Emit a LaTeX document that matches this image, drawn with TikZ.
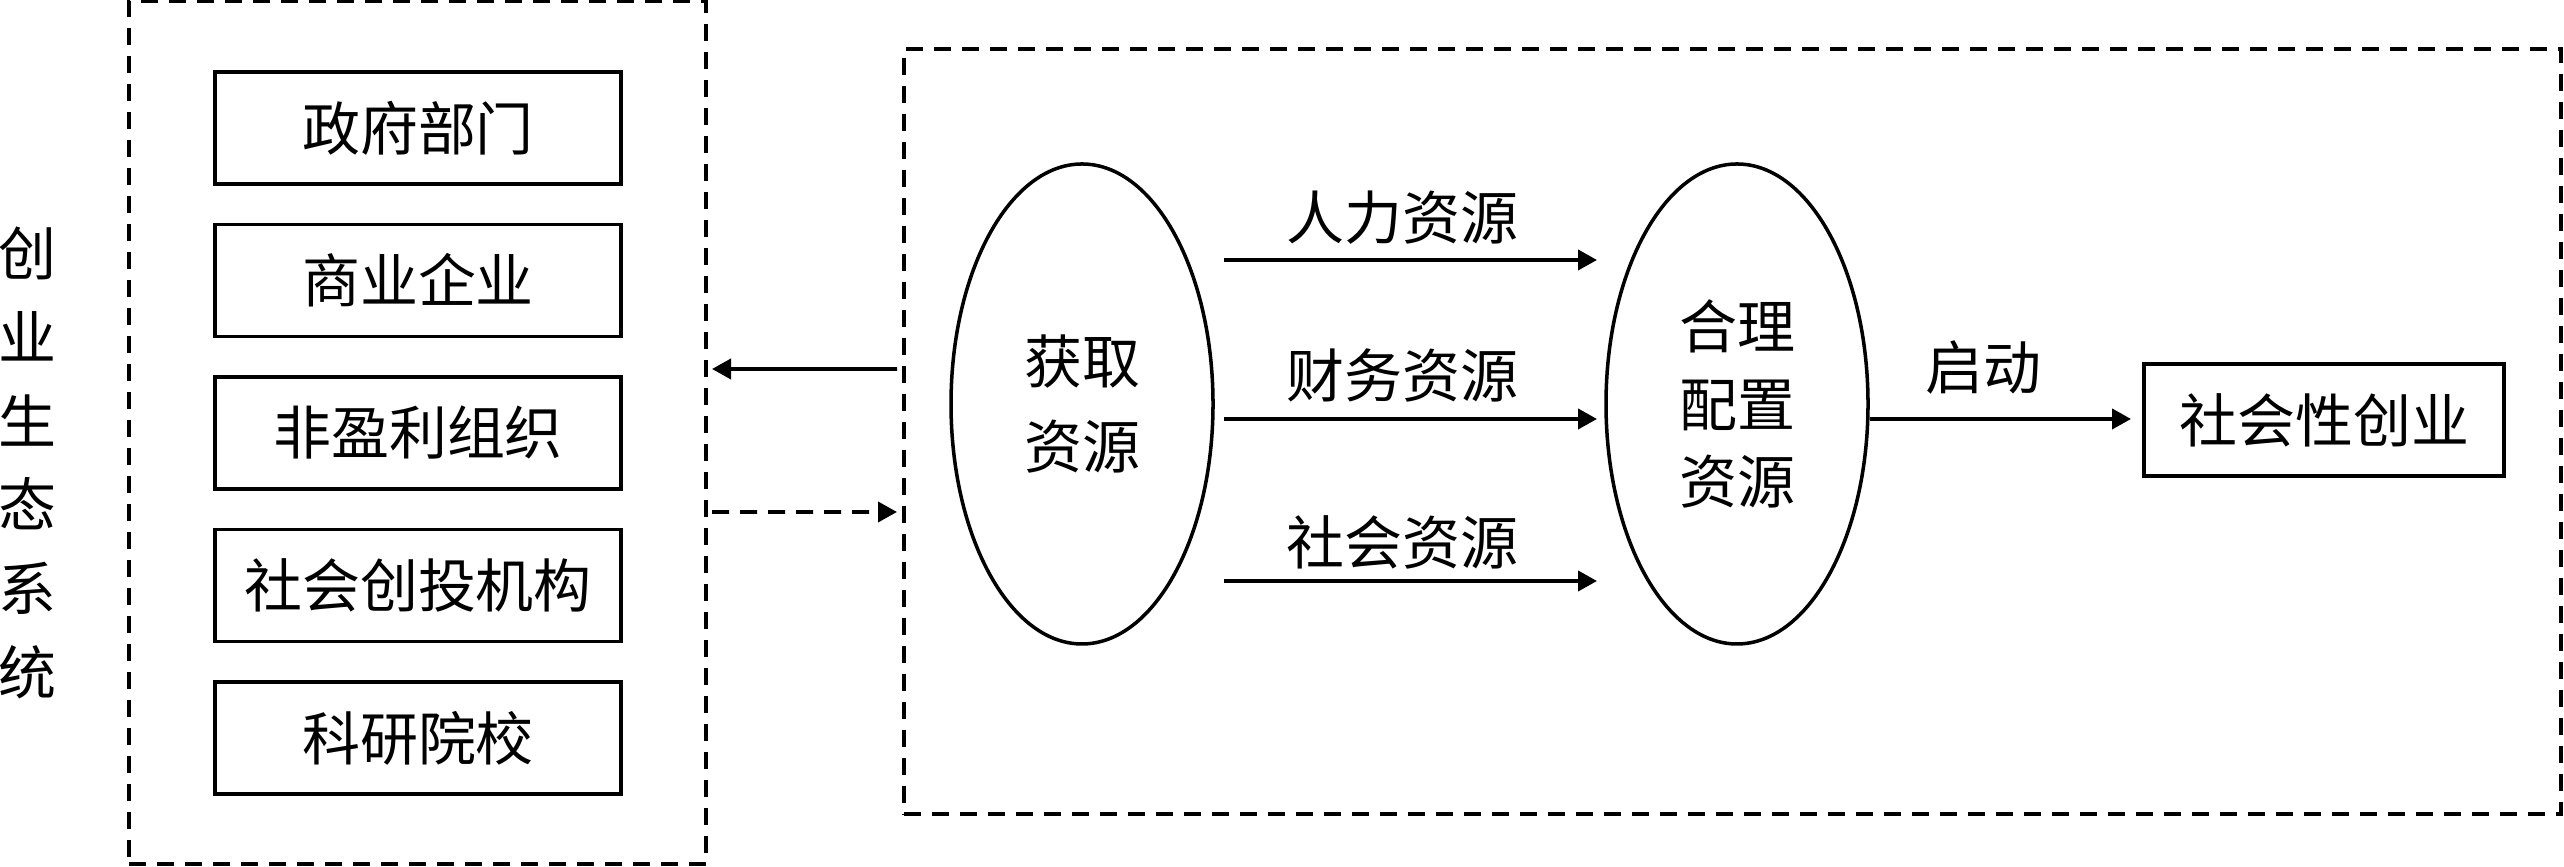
\documentclass[tikz,border=0pt]{standalone}
\usepackage{fontspec}
\setmainfont{Noto Sans CJK SC}
\usetikzlibrary{arrows.meta,calc,shapes.geometric}

\begin{document}
\begin{tikzpicture}[
        font=\fontsize{16.5}{20}\selectfont,
        frame/.style={draw, dash pattern=on 0.17cm off 0.11cm, line width=1.1pt, inner sep=0pt, outer sep=0pt},
        orgbox/.style={draw, line width=1.1pt, minimum width=4.06cm, minimum height=1.12cm, inner sep=0pt, outer sep=0pt},
        blob/.style={draw, ellipse, line width=1pt, minimum width=2.62cm, minimum height=4.8cm, inner sep=0pt, outer sep=0pt, align=center},
        flow/.style={line width=1.1pt, -{Triangle[length=0.19cm, width=0.2cm]}}
    ]
            % Frame to ensure alignment
            \useasboundingbox (0,0) rectangle (25.64,8.67);
            % Ecosystem
            \node[frame, minimum width=5.77cm, minimum height=8.63cm] (eco) at (4.175,4.345) {};
            \node[align=center, font=\fontsize{16.5}{23.8}\selectfont] (ecolabel) at (0.27,4.04) {创\\业\\生\\态\\系\\统};
            \node[orgbox] (gov)   at (4.18,7.39)  {政府部门};
            \node[orgbox] (firm)  at (4.18,5.865) {商业企业};
            \node[orgbox] (npo)   at (4.18,4.34)  {非盈利组织};
            \node[orgbox] (fund)  at (4.18,2.815) {社会创投机构};
            \node[orgbox] (univ)  at (4.18,1.29)  {科研院校};
            % Process
            \node[frame, minimum width=16.57cm, minimum height=7.65cm] (proc) at (17.325,4.355) {};
            \node[blob, font=\fontsize{16.5}{24.4}\selectfont] (getres) at (10.82,4.63) {获取\\资源};
            \node[blob, font=\fontsize{16.5}{22}\selectfont]   (alloc)  at (17.37,4.63) {合理\\配置\\资源};
            \node (human)  at (14.02,6.49) {人力资源};
            \node (money)  at (14.02,4.91) {财务资源};
            \node (social) at (14.02,3.25) {社会资源};
            \node (start)  at (19.83,4.99) {启动};
            \node[orgbox, minimum width=3.6cm] (venture) at (23.24,4.47) {社会性创业};
            % Resource flows
            \draw[flow] ($(getres.east)+(0.11,1.44)$)  -- ($(alloc.west)+(-0.09,1.44)$);
            \draw[flow] ($(getres.east)+(0.11,-0.15)$) -- ($(alloc.west)+(-0.09,-0.15)$);
            \draw[flow] ($(getres.east)+(0.11,-1.77)$) -- ($(alloc.west)+(-0.09,-1.77)$);
            \draw[flow] ($(alloc.east)+(0.02,-0.15)$)  -- ($(venture.west)+(-0.13,0.01)$);
            % Between the frames
            \draw[flow] ($(proc.west)+(-0.07,0.625)$) -- ($(eco.east)+(0.06,0.635)$);
            \draw[flow, dash pattern=on 0.17cm off 0.11cm] ($(eco.east)+(0.06,-0.795)$) -- ($(proc.west)+(-0.07,-0.805)$);
        \end{tikzpicture}
\end{document}
